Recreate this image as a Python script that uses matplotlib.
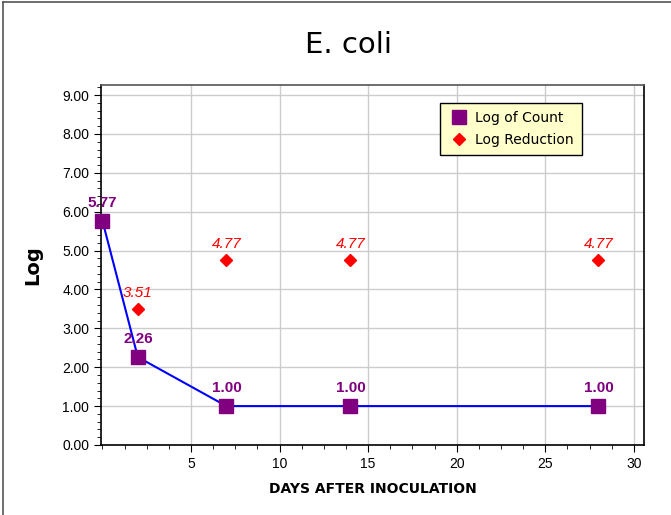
import numpy as np
import matplotlib
matplotlib.use("Agg")
import matplotlib.pyplot as plt
from matplotlib.ticker import MultipleLocator, FormatStrFormatter
from matplotlib.lines import Line2D

# data
days_count = [0, 2, 7, 14, 28]
log_count = [5.77, 2.26, 1.00, 1.00, 1.00]
days_red = [2, 7, 14, 28]
log_red = [3.51, 4.77, 4.77, 4.77]

fig = plt.figure(figsize=(6.71, 5.15), dpi=100)
ax = fig.add_axes([0.1505, 0.136, 0.81, 0.699])

# outer frame
fig.add_artist(Line2D([0.004, 0.004], [0, 0.996], color="#555555", lw=1.2, transform=fig.transFigure))
fig.add_artist(Line2D([0.004, 1], [0.996, 0.996], color="#555555", lw=1.2, transform=fig.transFigure))

ax.plot(days_count, log_count, color="#0000ff", lw=1.5, marker="s", ms=10,
        mfc="#800080", mec="#800080", zorder=3, clip_on=False)
ax.plot(days_red, log_red, ls="none", marker="D", ms=6.5, mfc="#ff0000",
        mec="#ff0000", zorder=3, clip_on=False)

for x, y in zip(days_count, log_count):
    ax.annotate("%.2f" % y, (x, y), xytext=(0, 8), textcoords="offset points",
                ha="center", va="bottom", color="#800080", fontsize=11,
                fontweight="bold", family="Liberation Sans")
for x, y in zip(days_red, log_red):
    ax.annotate("%.2f" % y, (x, y), xytext=(0, 6), textcoords="offset points",
                ha="center", va="bottom", color="#ff0000", fontsize=11,
                fontstyle="italic", family="Liberation Sans")

ax.set_xlim(-0.08, 30.6)
ax.set_ylim(0, 9.26)
ax.xaxis.set_major_locator(MultipleLocator(5))
ax.xaxis.set_minor_locator(MultipleLocator(1.25))
ax.yaxis.set_major_locator(MultipleLocator(1))
ax.yaxis.set_minor_locator(MultipleLocator(0.2))
ax.yaxis.set_major_formatter(FormatStrFormatter("%.2f"))
ax.set_xticks([5, 10, 15, 20, 25, 30])
ax.grid(True, which="major", color="#cccccc", lw=1)
ax.set_axisbelow(True)
ax.tick_params(axis="both", which="major", labelsize=10, length=5, direction="out")
ax.tick_params(axis="both", which="minor", length=3, direction="out")
for lab in ax.get_xticklabels() + ax.get_yticklabels():
    lab.set_family("Liberation Sans")
for s in ax.spines.values():
    s.set_linewidth(1.2)
ax.spines["top"].set_color("#555555")

ax.set_xlabel("DAYS AFTER INOCULATION", fontsize=10, fontweight="bold", labelpad=8)
ax.set_ylabel("Log", fontsize=14, fontweight="bold", labelpad=14)
fig.text(0.52, 0.912, "E. coli", ha="center", va="center", fontsize=21)

handles = [Line2D([], [], ls="none", marker="s", ms=10, mfc="#800080", mec="#800080"),
           Line2D([], [], ls="none", marker="D", ms=6.5, mfc="#ff0000", mec="#ff0000")]
leg = ax.legend(handles, ["Log of Count", "Log Reduction"], loc="upper right",
                bbox_to_anchor=(0.898, 0.97), fancybox=False, framealpha=1,
                facecolor="#ffffcc", edgecolor="black", fontsize=10,
                handletextpad=0.4, handlelength=1.5, borderpad=0.6, labelspacing=0.55)
leg.get_frame().set_linewidth(1)

fig.savefig("out.png", dpi=100)
